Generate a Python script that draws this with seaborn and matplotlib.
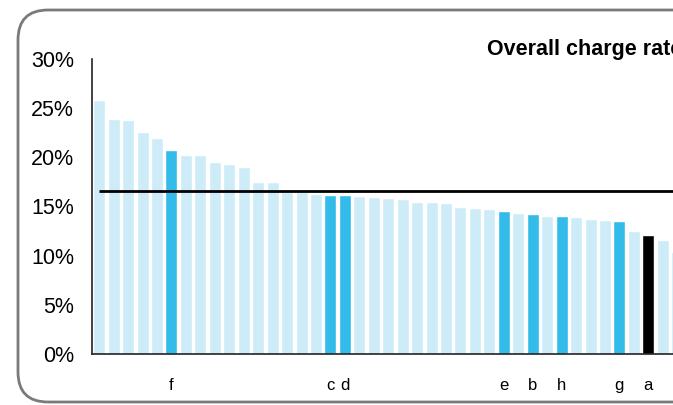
import numpy as np
import pandas as pd
import matplotlib
matplotlib.use("Agg")
import matplotlib.pyplot as plt
import matplotlib.patches as mpatches
import matplotlib.transforms as mtransforms
from matplotlib.ticker import PercentFormatter
import seaborn as sns

# --- DATA ---
charge_rates = [25.8, 23.9, 23.8, 22.6, 21.95, 20.75, 20.25, 20.25, 19.5, 19.3,
                19.0, 17.5, 17.5, 16.5, 16.5, 16.3, 16.15, 16.15, 16.1, 16.0,
                15.85, 15.75, 15.45, 15.45, 15.35, 14.95, 14.85, 14.75, 14.55, 14.35,
                14.25, 14.05, 14.05, 13.9, 13.7, 13.65, 13.55, 12.5, 12.1, 11.6,
                10.4]
# labelled bars (position in ranking -> letter)
labelled = {5: "f", 16: "c", 17: "d", 28: "e", 30: "b", 32: "h", 36: "g", 38: "a"}
focus = "a"
overall_rate = 16.6
title = "Overall charge rate"

LIGHT = "#cdecf8"
MID = "#33bbe9"
DARK = "#000000"

df = pd.DataFrame({"pos": np.arange(len(charge_rates)), "rate": charge_rates})
df["label"] = [labelled.get(i, "") for i in df["pos"]]
colors = [DARK if l == focus else (MID if l else LIGHT) for l in df["label"]]

sns.set_style("white")
plt.rcParams["font.family"] = ["Liberation Sans", "DejaVu Sans"]
plt.rcParams["text.color"] = "black"
plt.rcParams["xtick.color"] = "black"
plt.rcParams["ytick.color"] = "black"

W, H = 673, 405
fig = plt.figure(figsize=(W / 100, H / 100), dpi=100)

# axes spans beyond the right edge: the chart is cropped there
n = len(charge_rates)
pitch = 14.45
ax_left, ax_bottom, ax_top = 92, 354, 59
ax = fig.add_axes([ax_left / W, (H - ax_bottom) / H, n * pitch / W, (ax_bottom - ax_top) / H])

sns.barplot(data=df, x="pos", y="rate", hue="pos", palette=colors, legend=False,
            width=0.83, saturation=1, ax=ax)
ax.hlines(overall_rate, 0, n - 0.5, color="black", linewidth=2, zorder=5)

ax.set_xlim(-0.5, n - 0.5)
ax.set_ylim(0, 30)
ax.set_yticks(np.arange(0, 31, 5))
ax.yaxis.set_major_formatter(PercentFormatter(decimals=0))
ax.set_xticks(df["pos"])
ax.set_xticklabels(df["label"])
ax.tick_params(axis="x", length=0, pad=17, labelsize=12)
ax.tick_params(axis="y", length=5, width=1, color="#333333", pad=8, labelsize=15.5, direction="out")
ax.set_xlabel("")
ax.set_ylabel("")
for s in ["top", "right"]:
    ax.spines[s].set_visible(False)
for s in ["left", "bottom"]:
    ax.spines[s].set_color("#222222")
    ax.spines[s].set_linewidth(1.2)

fig.text(487 / W, 1 - 49 / H, title, ha="left", va="center",
         fontsize=15.5, fontweight="bold")

# rounded frame, open on the right
frame = mpatches.FancyBboxPatch((18, 3), 720, 392,
                                boxstyle="round,pad=0,rounding_size=30",
                                transform=mtransforms.IdentityTransform(),
                                facecolor="none", edgecolor="#7a7a7a", linewidth=2)
fig.add_artist(frame)

fig.savefig("out.png", dpi=100)
